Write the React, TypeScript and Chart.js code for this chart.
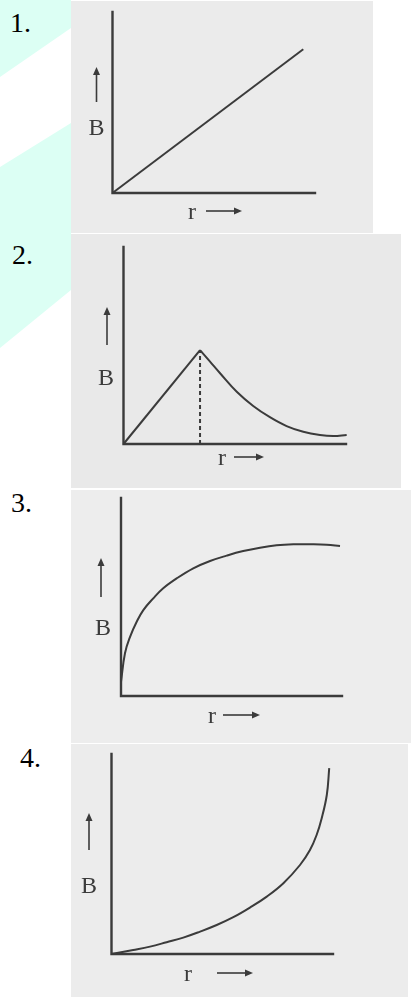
import React, { useEffect, useRef } from "react";
import { Chart, registerables } from "chart.js";

Chart.register(...registerables);

// Graph 1: B grows in proportion to r
const linearR = [0, 9.42];
const linearB = [0, 7.94];

// Graph 2: linear rise up to the surface, then a fall-off outside
const riseR = [0, 3.44];
const riseB = [0, 4.77];
const decayR = [3.44, 3.89, 4.34, 5.09, 5.83, 6.58, 7.33, 8.08, 8.83, 9.43, 10.03];
const decayB = [4.77, 4.18, 3.59, 2.65, 1.93, 1.36, 0.91, 0.62, 0.46, 0.41, 0.46];

// Graph 3: steep rise that levels off
const satR = [0, 0.18, 0.41, 0.71, 1.01, 1.46, 1.91, 2.52, 3.27, 4.03, 4.78, 5.53, 6.29, 7.04, 7.8, 8.55, 9.31, 9.91];
const satB = [0.71, 2.16, 2.99, 3.75, 4.34, 4.93, 5.44, 5.94, 6.45, 6.82, 7.09, 7.32, 7.49, 7.61, 7.66, 7.66, 7.64, 7.58];

// Graph 4: slow start, then rapid growth
const growR = [0, 0.98, 1.74, 2.49, 3.24, 4.0, 4.75, 5.5, 6.25, 7.01, 7.76, 8.51, 8.96, 9.26, 9.49, 9.72, 9.83];
const growB = [0, 0.2, 0.37, 0.59, 0.82, 1.12, 1.45, 1.84, 2.32, 2.87, 3.54, 4.45, 5.2, 5.95, 6.79, 7.95, 9.29];

const numberLabels = ["1.", "2.", "3.", "4."];
const yTitle = "B";
const xTitle = "r";

const INK = "#3b3b3b";

type Box = { x: number; y: number; w: number; h: number };
type Pad = { left: number; top: number; right: number; bottom: number };
type Panel = {
  box: Box;
  pad: Pad;
  bg: string;
  datasets: any[];
  upArrow: { x: number; tip: number; tail: number };
  rightArrow: { y: number; tail: number; tip: number };
  bPos: [number, number];
  rPos: [number, number];
  num: { left: number; top: number };
};

const pts = (xs: number[], ys: number[]) => xs.map((x, i) => ({ x, y: ys[i] }));

const curve = (data: { x: number; y: number }[], smooth: boolean) => ({
  data,
  borderColor: INK,
  borderWidth: 2,
  pointRadius: 0,
  fill: false,
  clip: false,
  tension: smooth ? 0.4 : 0,
});

const panels: Panel[] = [
  {
    box: { x: 71, y: 1, w: 302, h: 232 },
    pad: { left: 41.5, top: 11, right: 58, bottom: 40 },
    bg: "#ebebeb",
    datasets: [curve(pts(linearR, linearB), false)],
    upArrow: { x: 96.5, tip: 67, tail: 102 },
    rightArrow: { y: 211, tail: 206, tip: 242 },
    bPos: [96.5, 127],
    rPos: [192, 213],
    num: { left: 10, top: 8.5 },
  },
  {
    box: { x: 71, y: 234, w: 330, h: 254 },
    pad: { left: 52.5, top: 13, right: 55, bottom: 44 },
    bg: "#e9e9e9",
    datasets: [
      curve(pts(riseR, riseB), false),
      curve(pts(decayR, decayB), true),
      {
        ...curve(pts([riseR[1], riseR[1]], [0, riseB[1]]), false),
        borderDash: [4, 3],
      },
    ],
    upArrow: { x: 107, tip: 307, tail: 345 },
    rightArrow: { y: 457, tail: 234, tip: 264 },
    bPos: [106, 377],
    rPos: [222, 459],
    num: { left: 12, top: 240.5 },
  },
  {
    box: { x: 71, y: 490, w: 340, h: 253 },
    pad: { left: 50, top: 8, right: 69, bottom: 47 },
    bg: "#ededed",
    datasets: [curve(pts(satR, satB), true)],
    upArrow: { x: 101, tip: 558, tail: 597 },
    rightArrow: { y: 715, tail: 223, tip: 260 },
    bPos: [103, 627],
    rPos: [212, 717],
    num: { left: 11, top: 488.5 },
  },
  {
    box: { x: 71, y: 744, w: 337, h: 253 },
    pad: { left: 40.5, top: 10, right: 75, bottom: 43 },
    bg: "#ececec",
    datasets: [curve(pts(growR, growB), true)],
    upArrow: { x: 89, tip: 813, tail: 850 },
    rightArrow: { y: 973, tail: 217, tip: 253 },
    bPos: [89, 885],
    rPos: [188, 975],
    num: { left: 20, top: 743.5 },
  },
];

// Draws the two axis lines through the scales' zero points, plus the direction arrows.
const makeDecor = (p: Panel) => ({
  id: "axesAndArrows",
  beforeDatasetsDraw(chart: any) {
    const { ctx, scales } = chart;
    const x = scales.x;
    const y = scales.y;
    const x0 = x.getPixelForValue(0);
    const x1 = x.getPixelForValue(10);
    const y0 = y.getPixelForValue(0);
    const y1 = y.getPixelForValue(10);
    ctx.save();
    ctx.strokeStyle = INK;
    ctx.lineWidth = 2.4;
    ctx.lineCap = "square";
    ctx.beginPath();
    ctx.moveTo(x0, y1);
    ctx.lineTo(x0, y0);
    ctx.lineTo(x1, y0);
    ctx.stroke();

    const ox = p.box.x;
    const oy = p.box.y;
    ctx.lineWidth = 1.6;
    ctx.lineCap = "butt";
    ctx.fillStyle = INK;
    // upward arrow beside B
    const ua = p.upArrow;
    ctx.beginPath();
    ctx.moveTo(ua.x - ox, ua.tail - oy);
    ctx.lineTo(ua.x - ox, ua.tip - oy + 6);
    ctx.stroke();
    ctx.beginPath();
    ctx.moveTo(ua.x - ox, ua.tip - oy);
    ctx.lineTo(ua.x - ox - 3.5, ua.tip - oy + 8);
    ctx.lineTo(ua.x - ox + 3.5, ua.tip - oy + 8);
    ctx.closePath();
    ctx.fill();
    // rightward arrow beside r
    const ra = p.rightArrow;
    ctx.beginPath();
    ctx.moveTo(ra.tail - ox, ra.y - oy);
    ctx.lineTo(ra.tip - ox - 6, ra.y - oy);
    ctx.stroke();
    ctx.beginPath();
    ctx.moveTo(ra.tip - ox, ra.y - oy);
    ctx.lineTo(ra.tip - ox - 8, ra.y - oy - 3.5);
    ctx.lineTo(ra.tip - ox - 8, ra.y - oy + 3.5);
    ctx.closePath();
    ctx.fill();
    ctx.restore();
  },
});

function Graph({ panel }: { panel: Panel }) {
  const ref = useRef<HTMLCanvasElement | null>(null);
  useEffect(() => {
    if (!ref.current) return;
    const chart = new Chart(ref.current, {
      type: "line",
      data: { datasets: panel.datasets },
      options: {
        animation: false,
        responsive: false,
        maintainAspectRatio: false,
        layout: { padding: panel.pad },
        plugins: { legend: { display: false }, tooltip: { enabled: false } },
        scales: {
          x: { type: "linear", display: false, min: 0, max: 10 },
          y: { type: "linear", display: false, min: 0, max: 10 },
        },
        elements: { point: { radius: 0 } },
      } as any,
      plugins: [makeDecor(panel)],
    });
    return () => chart.destroy();
  }, [panel]);
  const { box } = panel;
  return (
    <canvas
      ref={ref}
      width={box.w}
      height={box.h}
      style={{
        position: "absolute",
        left: box.x,
        top: box.y,
        width: box.w,
        height: box.h,
        background: panel.bg,
      }}
    />
  );
}

const serif = '"Liberation Serif", "Times New Roman", "DejaVu Serif", serif';

function CenterText({ text, at, size }: { text: string; at: [number, number]; size: number }) {
  return (
    <span
      style={{
        position: "absolute",
        left: at[0],
        top: at[1],
        transform: "translate(-50%, -50%)",
        fontFamily: serif,
        fontSize: size,
        lineHeight: 1,
        color: INK,
        whiteSpace: "nowrap",
      }}
    >
      {text}
    </span>
  );
}

export default function App() {
  return (
    <div
      style={{
        position: "absolute",
        left: 0,
        top: 0,
        width: 411,
        height: 997,
        overflow: "hidden",
        background: "#ffffff",
      }}
    >
      <div
        style={{
          position: "absolute",
          left: 0,
          top: 0,
          width: 71,
          height: 80,
          background: "#dcfff4",
          clipPath: "polygon(0 0, 71px 0, 71px 28px, 0 77px)",
        }}
      />
      <div
        style={{
          position: "absolute",
          left: 0,
          top: 120,
          width: 71,
          height: 230,
          background: "#dcfff4",
          clipPath: "polygon(0 47px, 71px 3px, 71px 170px, 0 228px)",
        }}
      />
      {panels.map((p, i) => (
        <Graph key={i} panel={p} />
      ))}
      {panels.map((p, i) => (
        <React.Fragment key={"t" + i}>
          <span
            style={{
              position: "absolute",
              left: p.num.left,
              top: p.num.top,
              fontFamily: serif,
              fontSize: 28,
              lineHeight: 1,
              color: "#000",
            }}
          >
            {numberLabels[i]}
          </span>
          <CenterText text={yTitle} at={p.bPos} size={24} />
          <CenterText text={xTitle} at={[p.rPos[0], p.rPos[1] - 2]} size={24} />
        </React.Fragment>
      ))}
    </div>
  );
}
